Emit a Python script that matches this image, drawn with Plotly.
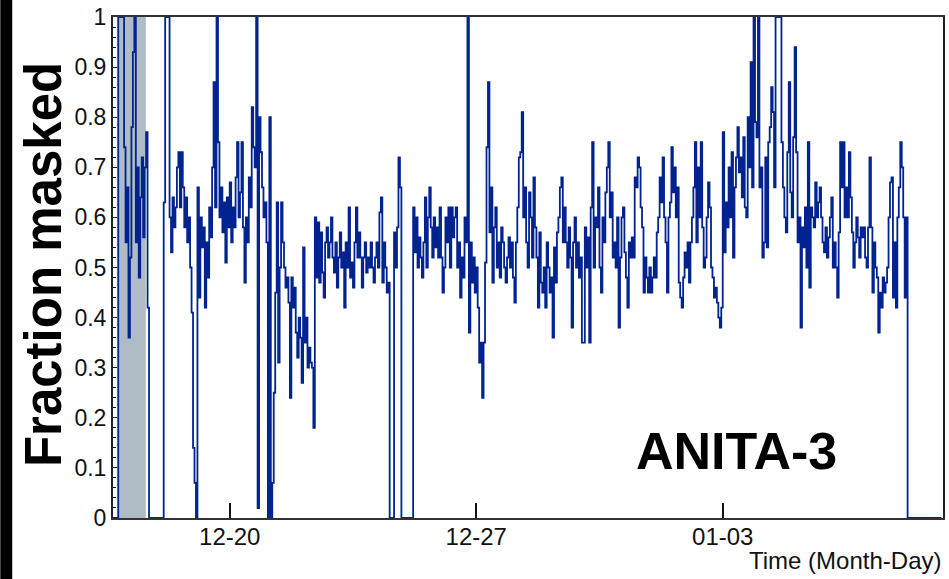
import pandas as pd
import plotly.graph_objects as go

# ---- data (hourly samples) ----
START = "2014-12-16 16:00"
fraction_masked = [
    0, 0, 0, 0, 1, 1, 1, 1, 0.74, 0.55,
    0.66, 0.36, 0.52, 0.78, 0.93, 1.0, 0.55, 0.70, 0.48, 0.64,
    0.72, 0.56, 0.70, 0.77, 0.42, 0, 0, 0, 0, 0,
    0, 0, 0, 0, 0, 0.63, 1, 1, 1, 0.60,
    0.53, 0.64, 0.58, 0.62, 0.70, 0.73, 0.62, 0.73, 0.66, 0.58,
    0.64, 0.55, 0.60, 0.50, 0.41, 0.14, 0.07, 0.0, 0.66, 0.44,
    0.60, 0.54, 0.58, 0.42, 0.55, 0.48, 0.62, 0.56, 0.70, 0.87,
    0.62, 1.0, 0.75, 0.60, 0.66, 0.57, 0.63, 0.51, 0.64, 0.58,
    0.67, 0.55, 0.62, 0.58, 0.68, 0.75, 0.60, 0.65, 0.75, 0.58,
    0.47, 0.60, 0.55, 0.68, 0.62, 0.82, 0.74, 0.70, 1.0, 0.02,
    0.80, 0.73, 0.66, 0.60, 0.63, 0.55, 0.0, 0.80, 0.0, 0.07,
    0.25, 0.45, 0.63, 0.31, 0.50, 0.63, 0.55, 0.50, 0.46, 0.48,
    0.43, 0.24, 0.48, 0.42, 0.46, 0.37, 0.32, 0.40, 0.36, 0.27,
    0.54, 0.35, 0.40, 0.30, 0.34, 0.31, 0.30, 0.18, 0.60, 0.48,
    0.59, 0.47, 0.57, 0.49, 0.44, 0.55, 0.58, 0.52, 0.55, 0.60,
    0.52, 0.49, 0.55, 0.46, 0.52, 0.57, 0.50, 0.53, 0.42, 0.55,
    0.50, 0.62, 0.48, 0.51, 0.46, 0.55, 0.62, 0.52, 0.57, 0.52,
    0.46, 0.52, 0.55, 0.49, 0.52, 0.50, 0.55, 0.50, 0.47, 0.52,
    0.55, 0.50, 0.61, 0.64, 0.47, 0.55, 0.50, 0.45, 0.47, 0.0,
    0.0, 0.0, 0.57, 0.50, 0.58, 0.72, 0.66, 0.0, 0, 0,
    0, 0, 0, 0, 0, 0.62, 0.53, 0.60, 0.50, 0.56,
    0.52, 0.48, 0.55, 0.64, 0.50, 0.60, 0.66, 0.58, 0.52, 0.60,
    0.54, 0.58, 0.52, 0.62, 0.52, 0.45, 0.50, 0.60, 0.55, 0.62,
    0.50, 0.62, 0.56, 0.60, 0.62, 0.50, 0.55, 0.44, 0.52, 0.48,
    0.60, 0.55, 1.0, 0.37, 0.55, 0.47, 0.52, 0.45, 0.50, 0.42,
    0.31, 0.35, 0.24, 0.35, 0.51, 0.74, 0.87, 0.57, 0.66, 0.47,
    0.58, 0.62, 0.50, 0.55, 0.48, 0.58, 0.55, 0.50, 0.47, 0.52,
    0.56, 0.50, 0.55, 0.48, 0.43, 0.55, 0.62, 0.72, 0.73, 0.81,
    0.60, 0.66, 0.55, 0.50, 0.65, 0.60, 0.52, 0.68, 0.58, 0.52,
    0.42, 0.57, 0.47, 0.45, 0.50, 0.42, 0.55, 0.50, 0.45, 0.48,
    0.36, 0.54, 0.47, 0.57, 0.60, 0.66, 0.68, 0.55, 0.62, 0.55,
    0.50, 0.58, 0.52, 0.38, 0.55, 0.60, 0.50, 0.55, 0.48, 0.52,
    0.35, 0.35, 0.58, 0.50, 0.56, 0.35, 0.62, 0.75, 0.50, 0.60,
    0.58, 0.66, 0.50, 0.45, 0.60, 0.55, 0.65, 0.70, 0.75, 0.60,
    0.65, 0.52, 0.55, 0.50, 0.60, 0.38, 0.52, 0.60, 0.62, 0.53,
    0.48, 0.42, 0.55, 0.52, 0.56, 0.52, 0.68, 0.66, 0.72, 0.70,
    0.62, 0.58, 0.45, 0.52, 0.48, 0.45, 0.50, 0.45, 0.48, 0.52,
    0.48, 0.57, 0.60, 0.68, 0.63, 0.72, 0.60, 0.55, 0.45, 0.60,
    0.63, 0.74, 0.65, 0.70, 0.60, 0.66, 0.47, 0.44, 0.42, 0.48,
    0.53, 0.50, 0.55, 0.47, 0.55, 0.60, 0.66, 0.75, 0.55, 0.70,
    0.60, 0.75, 0.58, 0.50, 0.52, 0.60, 0.67, 0.62, 0.50, 0.48,
    0.44, 0.46, 0.43, 0.40, 0.38, 0.42, 0.77, 0.53, 0.63, 0.58,
    0.70, 0.60, 0.73, 0.52, 0.66, 0.72, 0.78, 0.69, 0.72, 0.64,
    0.76, 0.62, 0.60, 0.80, 0.70, 0.91, 0.66, 1.0, 0.79, 0.76,
    1.0, 0.66, 0.70, 0.52, 0.55, 0.72, 0.54, 0.75, 0.78, 0.86,
    0.81, 0.66, 1.0, 1.0, 1.0, 1.0, 0.75, 0.66, 0.60, 0.57,
    0.73, 0.87, 0.65, 0.60, 0.76, 0.94, 0.73, 0.55, 0.60, 0.38,
    0.58, 0.54, 0.62, 0.50, 0.75, 0.46, 0.62, 0.60, 0.58, 0.67,
    0.60, 0.63, 0.66, 0.60, 0.55, 0.53, 0.58, 0.52, 0.56, 0.60,
    0.64, 0.50, 0.55, 0.50, 0.44, 0.57, 0.75, 0.66, 0.75, 0.60,
    0.66, 0.60, 0.73, 0.64, 0.57, 0.50, 0.55, 0.60, 0.56, 0.52,
    0.58, 0.56, 0.58, 0.52, 0.50, 0.58, 0.72, 0.58, 0.45, 0.55,
    0.50, 0.48, 0.37, 0.45, 0.42, 0.48, 0.45, 0.47, 0.50, 0.60,
    0.67, 0.68, 0.44, 0.55, 0.42, 0.60, 0.66, 0.75, 0.70, 0.60,
    0.44, 0.60, 0.0, 0, 0, 0, 0, 0, 0, 0,
    0, 0, 0, 0, 0, 0, 0, 0, 0, 0,
    0, 0, 0, 0, 0, 0,
]
tick_dates = ["2014-12-20", "2014-12-27", "2015-01-03"]
tick_labels = ["12-20", "12-27", "01-03"]
shaded_period = ["2014-12-16 19:50", "2014-12-17 14:50"]
x_range = ["2014-12-16 16:27", "2015-01-09 06:07"]

times = pd.date_range(START, periods=len(fraction_masked), freq="h")

FONT = "Liberation Sans, Arial, Helvetica, sans-serif"
BLUE = "#00238f"

fig = go.Figure()
fig.add_trace(go.Scatter(
    x=times, y=fraction_masked, mode="lines",
    line=dict(color=BLUE, width=1.8, shape="hv"),
    showlegend=False, hoverinfo="skip",
))

fig.add_shape(type="rect", xref="x", yref="paper",
              x0=shaded_period[0], x1=shaded_period[1], y0=0, y1=1,
              fillcolor="#b0bcc5", line_width=0, layer="below")
# black strip on the far left of the picture
fig.add_shape(type="rect", xref="paper", yref="paper",
              x0=-0.1358, x1=-0.1214, y0=-0.13, y1=1.04,
              fillcolor="black", line_width=0)

fig.add_annotation(text="<b>Fraction masked</b>", textangle=-90,
                   xref="paper", yref="paper", x=-0.083, y=0.505,
                   xanchor="center", yanchor="middle", showarrow=False,
                   font=dict(family=FONT, size=51, color="black"))
fig.add_annotation(text="<b>ANITA-3</b>", xref="paper", yref="paper",
                   x=0.751, y=0.133, xanchor="center", yanchor="middle",
                   showarrow=False, font=dict(family=FONT, size=52, color="black"))
fig.add_annotation(text="Time (Month-Day)", xref="paper", yref="paper",
                   x=1.0, y=-0.085, xanchor="right", yanchor="middle",
                   showarrow=False, font=dict(family=FONT, size=24, color="#111"))

fig.update_layout(
    width=949, height=579,
    margin=dict(l=113, r=4, t=13, b=61),
    paper_bgcolor="white", plot_bgcolor="white",
    font=dict(family=FONT, color="#111"),
)
fig.update_xaxes(
    type="date", range=x_range,
    tickmode="array", tickvals=tick_dates, ticktext=tick_labels,
    ticks="inside", ticklen=15, tickwidth=1.5, tickcolor="#111",
    tickfont=dict(size=24, family=FONT, color="#111"),
    ticklabelstandoff=-4,
    showgrid=False, zeroline=False,
    showline=True, linecolor="#333", linewidth=2, mirror=True,
)
fig.update_yaxes(
    range=[0, 1], tickmode="array",
    tickvals=[0, 0.1, 0.2, 0.3, 0.4, 0.5, 0.6, 0.7, 0.8, 0.9, 1],
    ticktext=["0", "0.1", "0.2", "0.3", "0.4", "0.5", "0.6", "0.7", "0.8", "0.9", "1"],
    ticks="inside", ticklen=4, tickwidth=1.2, tickcolor="#111",
    minor=dict(dtick=0.02, ticks="inside", ticklen=3, tickcolor="#111", tickwidth=1),
    tickfont=dict(size=23, family=FONT, color="#111"),
    showgrid=False, zeroline=False,
    showline=True, linecolor="#222", linewidth=2, mirror=True,
)

fig.write_html("out.html")
